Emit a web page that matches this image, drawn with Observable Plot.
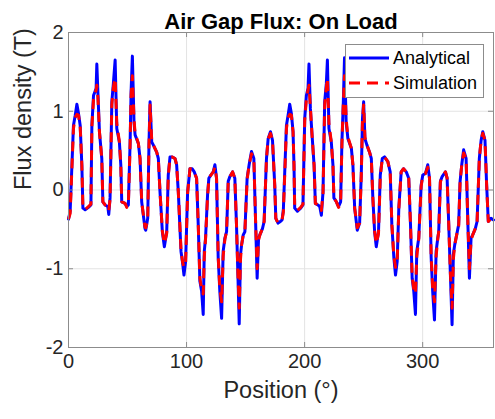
<!DOCTYPE html>
<html><head><meta charset="utf-8">
<script src="https://cdn.jsdelivr.net/npm/d3@7"></script>
<script src="https://cdn.jsdelivr.net/npm/@observablehq/plot@0.6"></script>
<style>
body{margin:0;background:#fff;font-family:"Liberation Sans",Arial,sans-serif;}
#wrap{position:relative;width:495px;height:419px;}
#legend{position:absolute;left:345px;top:44px;width:139px;height:54px;border:1px solid #8c8c8c;background:#fff;box-sizing:border-box;}
#legend .row{position:absolute;left:0;height:22px;display:flex;align-items:center;}
#legend svg{display:block;}
#legend span{font-size:18px;color:#000;margin-left:3px;white-space:nowrap;}
</style></head><body><div id="wrap"></div>
<script>
const position = [
  0, 1.4, 4.2, 5.7, 7.1, 8.5, 9.9, 11.3, 12.2, 14.1,
  16.9, 19.0, 19.8, 21.2, 23.4, 24.0, 24.9, 26.2, 28.2, 29.1,
  31.0, 33.3, 34.1, 35.2, 36.7, 38.0, 39.5, 40.9, 43.1, 44.3,
  45.1, 47.9, 49.4, 50.7, 52.2, 53.0, 54.1, 55.5, 56.4, 59.2,
  60.6, 62.0, 64.8, 65.4, 67.1, 68.2, 69.1, 70.5, 71.9, 74.7,
  76.1, 77.5, 79.5, 81.2, 83.2, 84.5, 86.0, 87.9, 90.2, 91.6,
  93.0, 95.3, 96.7, 97.8, 99.2, 100.9, 102.9, 104.8, 106.5, 108.5,
  109.9, 111.3, 112.8, 114.1, 115.0, 116.1, 117.8, 118.9, 120.6, 122.6,
  124.0, 125.4, 126.8, 128.2, 129.7, 131.0, 132.5, 133.9, 135.3, 136.7,
  139.0, 140.9, 142.3, 143.5, 144.6, 145.7, 146.6, 148.0, 149.4, 151.3,
  153.0, 155.0, 157.0, 158.4, 159.8, 161.0, 162.1, 164.3, 165.7, 167.7,
  169.1, 171.1, 172.8, 174.7, 175.6, 177.5, 179.5, 180.9, 182.0, 184.6,
  186.0, 187.4, 188.8, 190.2, 191.0, 191.6, 193.9, 196.7, 198.6, 200.1,
  201.5, 202.9, 203.7, 204.9, 206.3, 208.0, 209.1, 211.3, 212.8, 214.2,
  215.6, 217.0, 218.4, 219.3, 220.6, 222.6, 224.0, 224.8, 226.9, 228.8,
  230.5, 231.6, 232.8, 233.8, 235.2, 236.7, 239.6, 240.9, 242.4, 244.6,
  246.6, 248.0, 249.0, 250.0, 251.1, 252.8, 255.0, 256.5, 257.8, 259.3,
  260.7, 262.6, 264.1, 265.8, 267.7, 270.5, 272.5, 273.9, 275.6, 277.0,
  278.4, 279.8, 281.8, 283.8, 286.1, 288.2, 289.7, 291.1, 292.5, 293.9,
  295.0, 296.7, 298.7, 300.1, 302.4, 304.3, 305.8, 307.2, 308.5, 310.0,
  311.4, 312.8, 313.6, 315.0, 316.5, 319.3, 320.7, 322.1, 323.5, 324.9,
  326.0, 327.1, 328.8, 330.5, 331.7, 333.1, 334.7, 336.8, 338.1, 339.6,
  341.0, 342.4, 344.6, 346.1, 348.0, 349.5, 350.9, 352.8, 354.2, 355.6,
  357.9, 360.0
];
const analytical = [
  -0.37, -0.27, 0.82, 0.95, 1.09, 0.97, 0.82, 0.32, -0.23, -0.25,
  -0.22, -0.19, 0.82, 1.20, 1.29, 1.60, 1.24, 0.74, 0.40, -0.15,
  -0.19, -0.21, -0.31, -0.10, 1.12, 1.35, 1.65, 0.78, 0.61, 0.32,
  -0.15, -0.17, -0.21, -0.19, 0.61, 1.24, 1.70, 0.86, 0.70, 0.59,
  0.40, -0.15, -0.49, -0.51, -0.36, 0.61, 1.12, 0.61, 0.57, 0.48,
  0.40, -0.02, -0.53, -0.72, -0.53, 0.19, 0.42, 0.42, 0.40, 0.32,
  -0.02, -0.78, -0.93, -1.08, -0.91, -0.02, 0.27, 0.27, 0.23, 0.15,
  -0.44, -1.16, -1.29, -1.58, -0.78, -0.61, -0.06, 0.15, 0.19, 0.23,
  0.32, 0.15, -0.86, -1.29, -1.63, -0.78, -0.61, -0.53, 0.11, 0.17,
  0.23, 0.15, -0.44, -1.08, -1.70, -0.82, -0.70, -0.57, -0.53, 0.15,
  0.32, 0.49, 0.40, -0.36, -1.12, -0.61, -0.57, -0.49, -0.40, 0.40,
  0.65, 0.74, 0.63, 0.06, -0.36, -0.42, -0.40, -0.38, -0.25, 0.82,
  0.95, 1.09, 0.97, 0.74, 0.32, -0.23, -0.27, -0.23, -0.19, 0.91,
  1.20, 1.29, 1.60, 1.03, 0.70, 0.32, -0.17, -0.19, -0.21, -0.32,
  -0.02, 1.12, 1.35, 1.65, 0.78, 0.61, 0.32, -0.10, -0.15, -0.21,
  -0.15, 0.61, 1.12, 1.68, 0.86, 0.65, 0.53, 0.32, -0.23, -0.51,
  -0.42, 0.20, 0.90, 1.12, 0.65, 0.57, 0.48, 0.40, -0.10, -0.53,
  -0.72, -0.53, 0.19, 0.40, 0.42, 0.36, 0.23, -0.44, -0.86, -1.08,
  -0.91, -0.23, 0.23, 0.27, 0.23, 0.15, -0.44, -1.12, -1.29, -1.58,
  -0.78, -0.61, 0.06, 0.19, 0.21, 0.32, 0.15, -0.86, -1.29, -1.65,
  -0.78, -0.61, -0.53, 0.11, 0.17, 0.23, 0.15, -0.44, -1.08, -1.71,
  -0.82, -0.70, -0.57, -0.44, 0.11, 0.32, 0.51, 0.40, -0.32, -1.12,
  -0.61, -0.57, -0.49, -0.40, 0.40, 0.63, 0.74, 0.63, 0.06, -0.40,
  -0.36, -0.38
];
const simulation = [
  -0.37, -0.30, 0.78, 0.92, 0.96, 0.95, 0.80, 0.32, -0.22, -0.25,
  -0.21, -0.18, 0.80, 1.15, 1.27, 1.33, 1.18, 0.74, 0.40, -0.15,
  -0.19, -0.20, -0.26, -0.12, 1.08, 1.30, 1.42, 0.85, 0.61, 0.32,
  -0.15, -0.17, -0.22, -0.20, 0.58, 1.20, 1.45, 0.90, 0.72, 0.59,
  0.40, -0.15, -0.47, -0.48, -0.38, 0.58, 1.08, 0.63, 0.57, 0.48,
  0.40, -0.02, -0.52, -0.68, -0.55, 0.17, 0.42, 0.42, 0.40, 0.32,
  -0.02, -0.76, -0.92, -0.98, -0.92, -0.04, 0.27, 0.27, 0.23, 0.15,
  -0.44, -1.12, -1.26, -1.32, -0.85, -0.62, -0.08, 0.14, 0.19, 0.23,
  0.29, 0.15, -0.84, -1.25, -1.42, -0.84, -0.62, -0.53, 0.10, 0.17,
  0.23, 0.15, -0.44, -1.06, -1.50, -0.88, -0.70, -0.57, -0.53, 0.13,
  0.32, 0.46, 0.40, -0.36, -1.00, -0.64, -0.57, -0.49, -0.40, 0.40,
  0.65, 0.72, 0.63, 0.06, -0.36, -0.42, -0.40, -0.38, -0.28, 0.78,
  0.92, 0.96, 0.95, 0.74, 0.32, -0.22, -0.26, -0.22, -0.18, 0.88,
  1.15, 1.27, 1.33, 1.05, 0.70, 0.32, -0.17, -0.19, -0.20, -0.26,
  -0.05, 1.08, 1.30, 1.42, 0.85, 0.61, 0.32, -0.10, -0.15, -0.22,
  -0.17, 0.58, 1.10, 1.45, 0.90, 0.67, 0.53, 0.32, -0.23, -0.48,
  -0.42, 0.18, 0.86, 1.08, 0.67, 0.57, 0.48, 0.40, -0.10, -0.52,
  -0.68, -0.55, 0.17, 0.40, 0.42, 0.36, 0.23, -0.44, -0.84, -0.98,
  -0.92, -0.25, 0.23, 0.27, 0.23, 0.15, -0.44, -1.10, -1.26, -1.32,
  -0.85, -0.62, 0.04, 0.19, 0.21, 0.29, 0.15, -0.84, -1.25, -1.42,
  -0.84, -0.62, -0.53, 0.10, 0.17, 0.23, 0.15, -0.44, -1.06, -1.50,
  -0.88, -0.70, -0.57, -0.46, 0.10, 0.32, 0.47, 0.40, -0.32, -1.00,
  -0.64, -0.57, -0.49, -0.40, 0.40, 0.63, 0.72, 0.63, 0.06, -0.40,
  -0.36, -0.38
];
const xTicks = [0, 100, 200, 300];
const yTicks = [-2, -1, 0, 1, 2];
const seriesNames = ["Analytical", "Simulation"];
const titleText = "Air Gap Flux: On Load";
const xLabel = "Position (°)";
const yLabel = "Flux density (T)";

const blue = "#0000ff", red = "#ff0000";
const rows = position.map((x, i) => ({x, a: analytical[i], s: simulation[i]}));
const W = 495, H = 419, mL = 68, mR = 2, mT = 32, mB = 72;
const pw = W - mL - mR, ph = H - mT - mB;
const axisGray = "#8c8c8c", gridGray = "#e3e3e3", textCol = "#262626";

const chart = Plot.plot({
  width: W, height: H,
  marginLeft: mL, marginRight: mR, marginTop: mT, marginBottom: mB,
  x: {domain: [0, 360]},
  y: {domain: [-2, 2]},
  style: {fontFamily: "'Liberation Sans', Arial, sans-serif", background: "#fff", color: textCol},
  marks: [
    Plot.gridX(xTicks, {stroke: gridGray, strokeOpacity: 1, strokeWidth: 1}),
    Plot.gridY(yTicks, {stroke: gridGray, strokeOpacity: 1, strokeWidth: 1}),
    Plot.line(rows, {x: "x", y: "a", stroke: blue, strokeWidth: 3}),
    Plot.line(rows, {x: "x", y: "s", stroke: red, strokeWidth: 3, strokeDasharray: "10,7", strokeLinecap: "butt"}),
    Plot.frame({stroke: axisGray, strokeWidth: 1}),
    Plot.ruleX(xTicks, {stroke: axisGray, insetTop: ph - 5}),
    Plot.ruleX(xTicks, {stroke: axisGray, insetBottom: ph - 5}),
    Plot.ruleY(yTicks, {stroke: axisGray, insetLeft: pw - 5}),
    Plot.ruleY(yTicks, {stroke: axisGray, insetRight: pw - 5}),
    Plot.axisX(xTicks, {tickSize: 0, tickPadding: 6, fontSize: 20, label: null, fill: textCol}),
    Plot.axisY(yTicks, {tickSize: 0, tickPadding: 5, fontSize: 20, label: null, fill: textCol, tickFormat: d => String(d)}),
    Plot.text([xLabel], {text: d => d, frameAnchor: "bottom", dy: 50, fontSize: 23.5, fill: textCol}),
    Plot.text([yLabel], {text: d => d, frameAnchor: "left", dx: -45, rotate: -90, fontSize: 23.5, fill: textCol}),
    Plot.text([titleText], {text: d => d, frameAnchor: "top", dy: -19, fontSize: 22, fontWeight: "bold", fill: "#000"})
  ]
});
const wrap = document.getElementById("wrap");
wrap.appendChild(chart);

const legend = document.createElement("div");
legend.id = "legend";
const styles = [{c: blue, dash: null}, {c: red, dash: "11,7"}];
seriesNames.forEach((name, i) => {
  const row = document.createElement("div");
  row.className = "row";
  row.style.top = (i === 0 ? 2 : 27) + "px";
  const st = styles[i];
  row.innerHTML = `<svg width="44" height="22"><line x1="3" x2="43" y1="11" y2="11" stroke="${st.c}" stroke-width="3" ${st.dash ? `stroke-dasharray="${st.dash}"` : ""}/></svg><span>${name}</span>`;
  legend.appendChild(row);
});
wrap.appendChild(legend);
</script></body></html>
